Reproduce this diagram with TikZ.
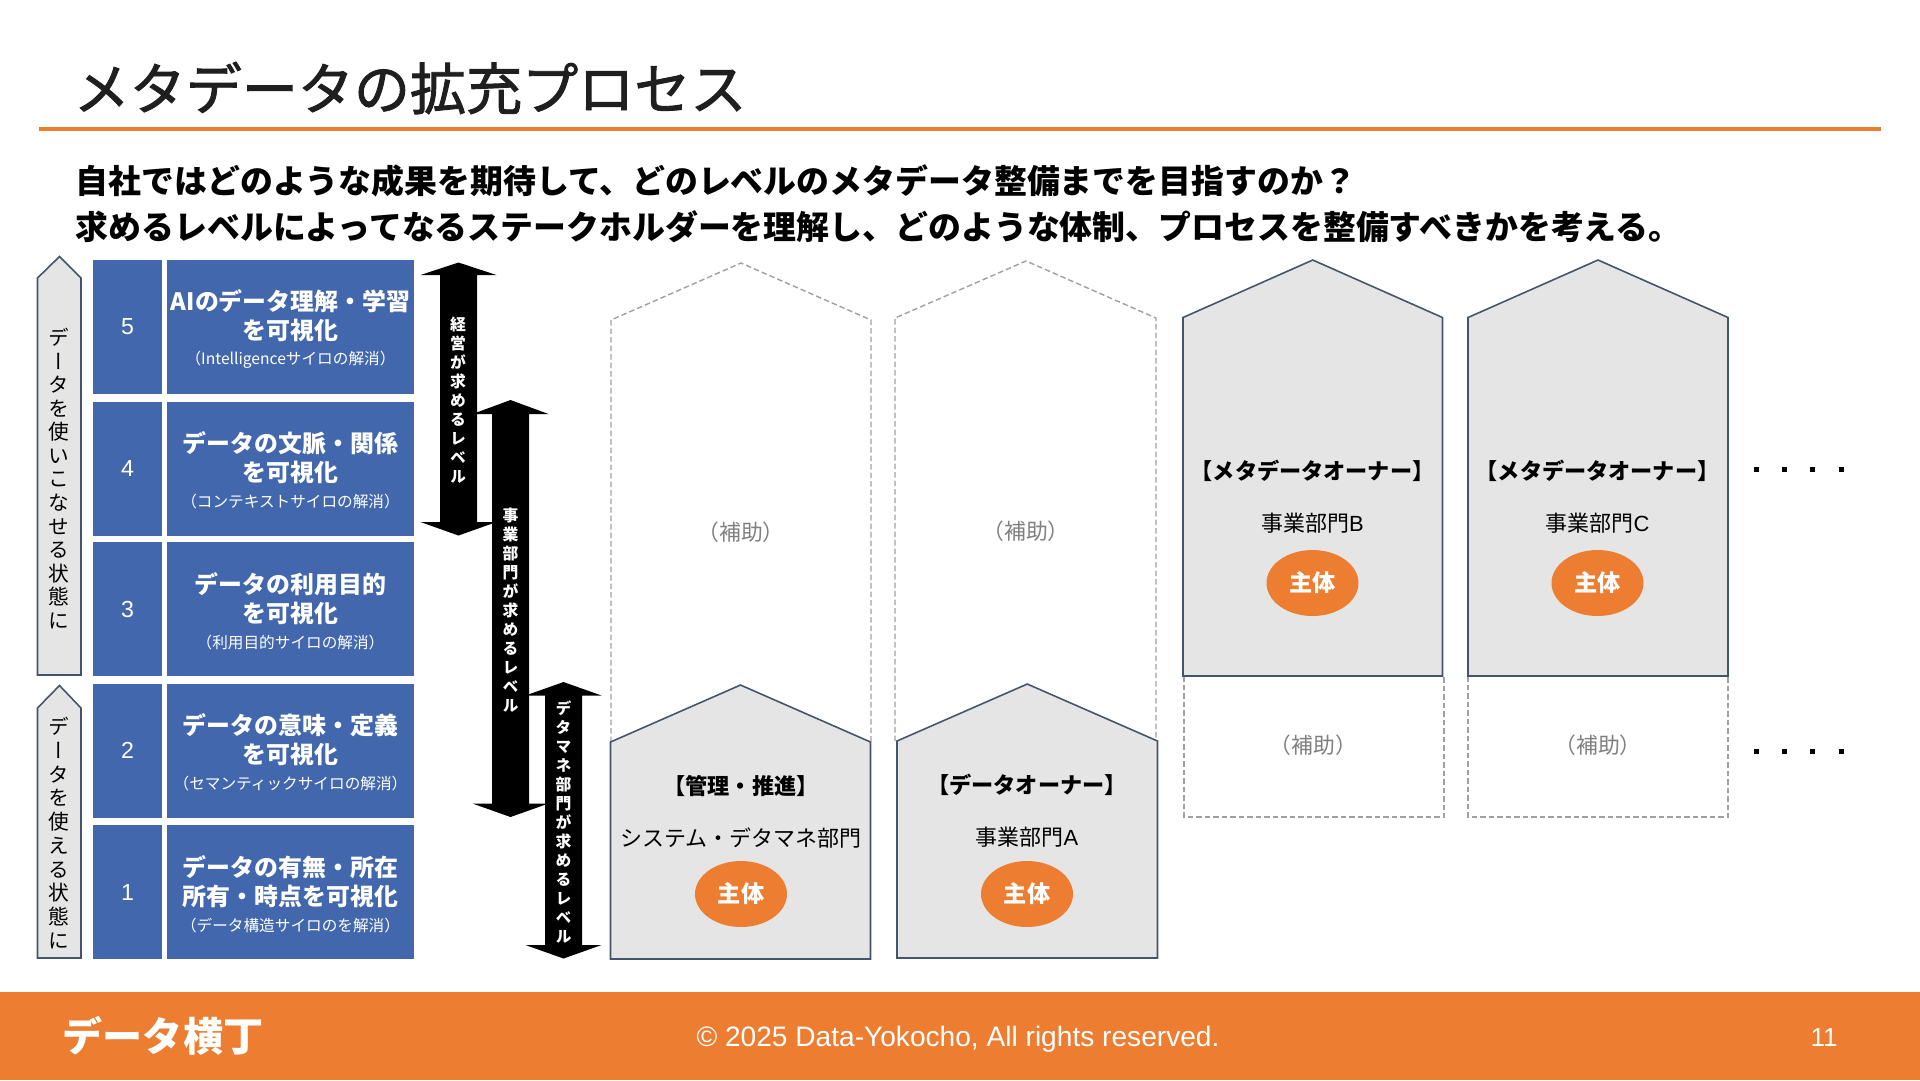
\documentclass[tikz,border=0pt]{standalone}
\usepackage{fontspec}
\setmainfont{Noto Sans CJK JP}
\newfontfamily\latinfont{Liberation Sans}
\newfontfamily\titlefont[FakeBold=1.6]{Noto Sans CJK JP}
\newfontfamily\vertfont[RawFeature={+vert}]{Noto Sans CJK JP}
\usetikzlibrary{positioning,shapes.geometric}
\definecolor{dyorange}{HTML}{ED7D31}
\definecolor{dyblue}{HTML}{4267AC}
\definecolor{dygrey}{HTML}{E5E5E5}
\definecolor{dyslate}{HTML}{44546A}
\definecolor{dydash}{HTML}{A0A0A0}
\definecolor{dyhelp}{HTML}{7F7F7F}
\newcommand{\fsz}[2]{\fontsize{#1pt}{#2pt}\selectfont}
\makeatletter
\newcommand{\stackchars}[2]{\vbox{\baselineskip=#1\lineskiplimit=-10pt\@tfor\stackch:=#2\do{\hbox to 1em{\hss\stackch\hss}}}}
\makeatother
\begin{document}
\begin{tikzpicture}[x=.1mm,y=-.1mm,
    levelnum/.style={fill=dyblue,text=white,inner sep=0pt,minimum width=6.9mm,minimum height=13.4mm,font=\latinfont\fsz{6.6}{7.5}},
    levelbox/.style={fill=dyblue,inner sep=0pt,minimum width=24.7mm,minimum height=13.4mm},
    leveltext/.style={text=white,inner sep=0pt,align=center,font=\bfseries\fsz{6.8}{8.25}},
    sidearrow/.style={draw=dyslate,fill=dygrey,line width=.45pt},
    sidelabel/.style={inner sep=0pt,font=\vertfont\fsz{5.9}{6.8}},
    bararrow/.style={fill=black},
    barlabel/.style={inner sep=0pt,text=white,font=\vertfont\bfseries\fsz{4.5}{5.3}},
    ownerhouse/.style={draw=dyslate,fill=dygrey,line width=.45pt},
    helphouse/.style={draw=dydash,line width=.4pt,dash pattern=on .55mm off .3mm},
    roletitle/.style={inner sep=0pt,font=\bfseries\fsz{6.3}{7.5}},
    roledept/.style={inner sep=0pt,font=\fsz{6.25}{7.5}},
    rolemain/.style={ellipse,fill=dyorange,text=white,inner sep=0pt,minimum width=9.2mm,minimum height=6.6mm,font=\bfseries\fsz{6.6}{8}},
    helplabel/.style={inner sep=0pt,text=dyhelp,font=\fsz{6.2}{7.5}},
    moredots/.style={fill=black,inner sep=0pt,minimum size=.5mm}]
    \useasboundingbox (0,0) rectangle (1920,1080);
    \node[anchor=west,inner sep=0pt,text=black!88,font=\titlefont\fsz{15.95}{18}] (title) at (73,88) {メタデータの拡充プロセス};
    \fill[dyorange] (39,127) rectangle (1881,131);
    \node[anchor=west,inner sep=0pt,font=\bfseries\fsz{9.36}{11}] (lead1) at (75,181) {自社ではどのような成果を期待して、どのレベルのメタデータ整備までを目指すのか？};
    \node[anchor=west,inner sep=0pt,font=\bfseries\fsz{9.36}{11}] (lead2) at (75,227) {求めるレベルによってなるステークホルダーを理解し、どのような体制、プロセスを整備すべきかを考える。};
    % levels
    \foreach \n/\y/\lab/\sub in {5/327/{AIのデータ理解・学習\\を可視化}/{（Intelligenceサイロの解消）},
      4/468.5/{データの文脈・関係\\を可視化}/{（コンテキストサイロの解消）},
      3/609/{データの利用目的\\を可視化}/{（利用目的サイロの解消）},
      2/750.5/{データの意味・定義\\を可視化}/{（セマンティックサイロの解消）},
      1/892/{データの有無・所在\\所有・時点を可視化}/{（データ構造サイロのを解消）}} {
      \node[levelnum] (num\n) at (127.5,\y) {\n};
      \node[levelbox] (lev\n) at (290.5,\y) {};
      \node[leveltext] (levtext\n) at (290.5,\y+2) {\lab\\[-.32mm]{\mdseries\fsz{4.45}{5}\sub}};
    }
    % side arrows
    \draw[sidearrow] (37.5,675)--(37.5,278)--(59.5,256.5)--(81,278)--(81,675)--cycle;
    \draw[sidearrow] (37.5,958)--(37.5,708)--(59.5,685.5)--(81,708)--(81,958)--cycle;
    \node[sidelabel] (use2) at (59,478.5) {\stackchars{6.7pt}{データを使いこなせる状態に}};
    \node[sidelabel] (use1) at (59,833) {\stackchars{6.75pt}{データを使える状態に}};
    % level arrows
    \foreach \cx/\t/\st/\sb/\b in {458.5/262.5/275/522/535.5,510.5/400/414/803.5/817,563.5/682/695.5/945/958.5} {
      \fill[bararrow] (\cx,\t)--(\cx+38,\st)--(\cx+18.5,\st)--(\cx+18.5,\sb)--(\cx+38,\sb)--(\cx,\b)--(\cx-38,\sb)--(\cx-18.5,\sb)--(\cx-18.5,\st)--(\cx-38,\st)--cycle;
    }
    \node[barlabel] (needtop) at (458,400) {\stackchars{5.4pt}{経営が求めるレベル}};
    \node[barlabel] (needbiz) at (510.5,610) {\stackchars{5.4pt}{事業部門が求めるレベル}};
    \node[barlabel] (needdm) at (563.5,822) {\stackchars{5.4pt}{デタマネ部門が求めるレベル}};
    % helper outlines
    \draw[helphouse] (611,742)--(611,320)--(741,263)--(871,320)--(871,742);
    \draw[helphouse] (895,741)--(895,318)--(1026,261)--(1156,318)--(1156,741);
    \draw[helphouse] (1184,676)--(1184,817)--(1444,817)--(1444,676);
    \draw[helphouse] (1468,676)--(1468,817)--(1728,817)--(1728,676);
    % owner houses
    \foreach \l/\r/\t/\s/\b in {610.5/870.5/685/742/959,897/1157.5/684/741/958,1183/1442.5/260/317.5/676,1468/1728/260/317.5/676} {
      \draw[ownerhouse] (\l,\b)--(\l,\s)--({(\l+\r)/2},\t)--(\r,\s)--(\r,\b)--cycle;
    }
    \foreach \k/\x/\y/\m/\lab/\dept in {a/741/786/894/【管理・推進】/システム・デタマネ部門,
      b/1027/785/894/【データオーナー】/事業部門{\latinfont A},
      c/1312.5/471/583/【メタデータオーナー】/事業部門{\latinfont B},
      d/1597.5/471/583/【メタデータオーナー】/事業部門{\latinfont C}} {
      \node[roletitle] (title\k) at (\x,\y) {\lab};
      \node[roledept] (dept\k) at (\x,\y+52.5) {\dept};
      \node[rolemain] (main\k) at (\x,\m) {主体};
    }
    \node[helplabel] (helpa) at (741,532) {（補助）};
    \node[helplabel] (helpb) at (1026,531) {（補助）};
    \node[helplabel] (helpc) at (1313.5,745.5) {（補助）};
    \node[helplabel] (helpd) at (1598,745.5) {（補助）};
    \foreach \y/\r in {469/u,751/v} \foreach \x/\k in {1756.5/1,1784.5/2,1812.5/3,1841/4} {
      \node[moredots] (dot\r\k) at (\x,\y) {};
    }
    % footer
    \fill[dyorange] (0,992) rectangle (1920,1080);
    \node[inner sep=0pt,text=white,font=\bfseries\fsz{11.4}{13}] (logo) at (163,1036) {データ横丁};
    \node[inner sep=0pt,text=white,font=\latinfont\fsz{8}{9}] (copy) at (958,1039) {© 2025 Data-Yokocho, All rights reserved.};
    \node[inner sep=0pt,text=white,font=\latinfont\fsz{7.4}{9}] (page) at (1824,1038) {11};
  \end{tikzpicture}
\end{document}
